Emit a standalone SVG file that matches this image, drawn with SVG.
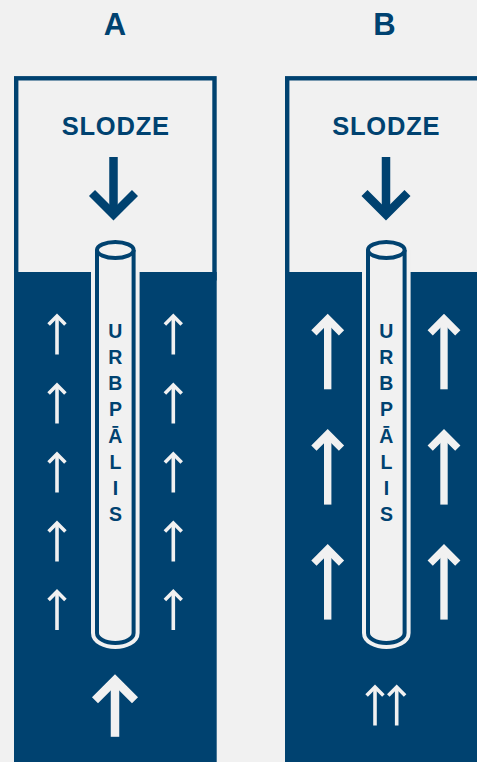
<svg xmlns="http://www.w3.org/2000/svg" xmlns:xlink="http://www.w3.org/1999/xlink" width="477" height="762" viewBox="0 0 477 762">
<style>
.t{font-family:"Liberation Sans",Arial,sans-serif;font-weight:bold;fill:#004270;text-anchor:middle}
.box{fill:#f1f1f1;stroke:#004270;stroke-width:4.4}
.ground{fill:#004270}
.halo{fill:#f1f1f1;stroke:#f1f1f1;stroke-width:12}
.pile{fill:#f1f1f1;stroke:#004270;stroke-width:4}
.wa{fill:none;stroke:#f1f1f1;stroke-linejoin:miter;stroke-miterlimit:10}
.da{fill:none;stroke:#004270;stroke-linejoin:miter;stroke-miterlimit:10;stroke-width:8.5}
</style>
<defs>
<g id="sa" class="wa" style="stroke-width:3.6"><path d="M0,2V40.5"/><path d="M-8.4,10.4L0,2L8.4,10.4"/></g>
<g id="ma" class="wa" style="stroke-width:7.4"><path d="M0,5V75.3"/><path d="M-13.8,18.8L0,5L13.8,18.8"/></g>
<g id="la" class="wa" style="stroke-width:8.5"><path d="M0,6V62.5"/><path d="M-20,26L0,6L20,26"/></g>
</defs>
<rect width="477" height="762" fill="#f1f1f1"/>
<g id="titleA"><text class="t" x="115" y="35" font-size="31">A</text></g>
<g id="titleB"><text class="t" x="384.5" y="35" font-size="31">B</text></g>
<g id="panelA">
<rect class="box" x="16.2" y="78.3" width="198.3" height="200"/>
<rect class="ground" x="14" y="272" width="202.7" height="490"/>
<text class="t" x="115.8" y="134.5" font-size="25.5" letter-spacing="0.8">SLODZE</text>
</g>
<g id="panelB">
<rect class="box" x="287.2" y="78.3" width="210" height="200"/>
<rect class="ground" x="285" y="272" width="192" height="490"/>
<text class="t" x="386.3" y="134.5" font-size="25.5" letter-spacing="0.8">SLODZE</text>
</g>
<g id="pileA">
<path class="halo" d="M97,250V633A18.3,10 0 0 0 133.6,633V250"/>
<path class="pile" d="M97,250V633A18.3,10 0 0 0 133.6,633V250"/>
<ellipse class="pile" cx="115.3" cy="250" rx="18.3" ry="8"/>
<g class="t" font-size="19.5">
<text x="115.4" y="338">U</text><text x="115.4" y="364.2">R</text><text x="115.4" y="390.3">B</text><text x="115.4" y="416.4">P</text><text x="115.4" y="442.6">Ā</text><text x="115.4" y="468.7">L</text><text x="115.4" y="494.8">I</text><text x="115.4" y="521">S</text>
</g>
</g>
<g id="pileB">
<path class="halo" d="M368,250V633A18.3,10 0 0 0 404.6,633V250"/>
<path class="pile" d="M368,250V633A18.3,10 0 0 0 404.6,633V250"/>
<ellipse class="pile" cx="386.3" cy="250" rx="18.3" ry="8"/>
<g class="t" font-size="19.5">
<text x="386.4" y="338">U</text><text x="386.4" y="364.2">R</text><text x="386.4" y="390.3">B</text><text x="386.4" y="416.4">P</text><text x="386.4" y="442.6">Ā</text><text x="386.4" y="468.7">L</text><text x="386.4" y="494.8">I</text><text x="386.4" y="521">S</text>
</g>
</g>
<g id="connectors">
<path class="da" d="M113.5,157V214"/><path class="da" d="M92,193L113.5,214.5L135,193"/>
<path class="da" d="M386,157V214"/><path class="da" d="M364.5,193L386,214.5L407.5,193"/>
<use xlink:href="#sa" x="57" y="314"/><use xlink:href="#sa" x="57" y="383"/><use xlink:href="#sa" x="57" y="452"/><use xlink:href="#sa" x="57" y="521"/><use xlink:href="#sa" x="57" y="589.5"/>
<use xlink:href="#sa" x="173.3" y="314"/><use xlink:href="#sa" x="173.3" y="383"/><use xlink:href="#sa" x="173.3" y="452"/><use xlink:href="#sa" x="173.3" y="521"/><use xlink:href="#sa" x="173.3" y="589.5"/>
<use xlink:href="#la" x="115" y="674.3"/>
<use xlink:href="#ma" x="327.7" y="314"/><use xlink:href="#ma" x="327.7" y="429.3"/><use xlink:href="#ma" x="327.7" y="544.3"/>
<use xlink:href="#ma" x="444" y="314"/><use xlink:href="#ma" x="444" y="429.3"/><use xlink:href="#ma" x="444" y="544.3"/>
<use xlink:href="#sa" x="375" y="685"/><use xlink:href="#sa" x="396.7" y="685"/>
</g>
</svg>
